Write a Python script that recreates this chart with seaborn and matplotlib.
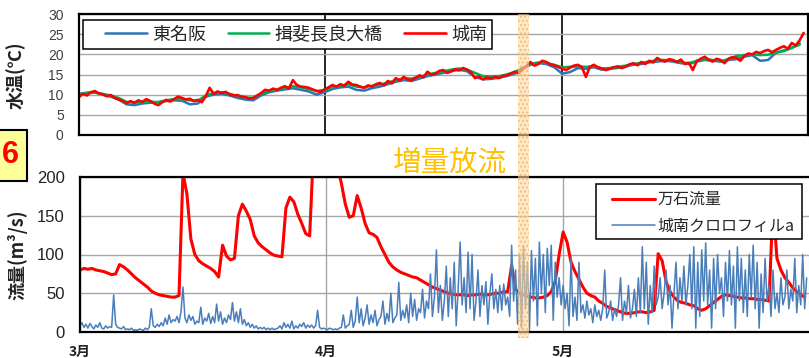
import numpy as np
import pandas as pd
import matplotlib
matplotlib.use("Agg")
import matplotlib.pyplot as plt
import seaborn as sns
from matplotlib.patches import Rectangle

sns.set_theme(style="white")
plt.rcParams["font.family"] = ["Liberation Sans", "Noto Sans CJK JP", "DejaVu Sans"]
JP = ["Noto Sans CJK JP", "DejaVu Sans"]

# ---- water temperature (°C) ----
# 城南: twice a day, from 1 March
temp_jonan = [
    9.4, 10.2, 9.8, 10.6, 10.9, 10.3, 10.1, 9.6, 9.9, 9.2,
    8.8, 8.5, 7.9, 8.4, 8.0, 8.6, 8.2, 8.9, 8.4, 7.8,
    7.4, 8.1, 8.7, 8.3, 8.9, 9.5, 9.2, 8.8, 9.0, 8.4,
    8.7, 8.1, 9.6, 11.7, 10.2, 10.8, 10.4, 10.7, 10.1, 9.8,
    9.9, 9.5, 9.4, 9.0, 9.2, 9.8, 10.4, 11.2, 11.0, 11.5,
    11.2, 11.7, 12.1, 11.5, 13.6, 12.4, 12.0, 11.9, 11.7, 11.3,
    10.9, 10.7, 11.3, 11.8, 12.4, 12.0, 12.6, 12.2, 13.2, 12.5,
    12.4, 12.0, 11.7, 12.3, 12.0, 12.6, 12.9, 12.3, 13.4, 12.8,
    14.1, 13.5, 14.4, 13.8, 13.6, 14.2, 14.8, 14.3, 15.7, 14.9,
    15.2, 15.9, 16.1, 15.4, 15.8, 16.3, 16.0, 16.6, 16.2, 15.5,
    14.1, 14.5, 13.8, 14.3, 14.0, 14.4, 14.1, 14.6, 14.8, 15.2,
    15.7, 15.3, 16.4, 17.0, 18.1, 17.2, 17.6, 18.4, 18.1, 17.5,
    17.3, 16.9, 16.4, 16.1, 16.7, 17.2, 17.4, 16.8, 14.4, 16.9,
    17.4, 16.8, 16.5, 16.1, 16.4, 16.8, 17.0, 16.6, 16.9, 17.5,
    17.8, 17.3, 18.1, 17.6, 18.4, 18.0, 19.1, 18.5, 18.2, 18.8,
    18.6, 18.1, 18.7, 17.6, 17.9, 16.1, 18.3, 18.9, 19.4, 18.7,
    18.2, 18.9, 18.6, 17.8, 18.9, 19.3, 19.1, 18.4, 19.6, 20.2,
    20.0, 20.6, 20.3, 20.8, 21.1, 20.5, 21.1, 21.6, 22.0, 21.4,
    22.8, 22.2, 23.5, 25.3,
]
# 東名阪: daily
temp_tomeihan = [
    10.2, 10.5, 10.6, 10.0, 9.5, 8.8, 7.6, 7.4, 7.8, 8.0,
    8.2, 8.4, 8.6, 8.5, 7.6, 7.8, 9.5, 10.0, 10.2, 9.8,
    9.2, 8.8, 8.6, 9.8, 10.6, 11.0, 11.3, 11.6, 11.2, 10.8,
    10.0, 10.6, 11.4, 11.8, 12.0, 11.2, 11.0, 11.6, 12.0, 12.6,
    13.2, 13.6, 13.4, 14.0, 14.6, 15.0, 15.4, 15.8, 16.2, 15.8,
    14.4, 13.8, 13.9, 14.2, 14.6, 15.2, 16.4, 17.4, 17.8, 17.6,
    16.8, 15.2, 15.6, 16.6, 16.4, 16.8, 16.2, 16.4, 16.6, 17.0,
    17.4, 17.6, 18.0, 18.2, 18.4, 18.2, 17.8, 17.6, 18.2, 18.6,
    18.4, 18.2, 18.6, 18.8, 19.4, 19.8, 18.4, 18.6, 20.4, 21.0,
    21.6, 22.8,
]
# 揖斐長良大橋: daily
temp_ibi = [
    10.0, 10.4, 10.5, 10.2, 9.8, 9.2, 8.2, 8.0, 8.2, 8.3,
    8.1, 8.6, 8.9, 8.9, 8.6, 8.5, 9.8, 10.4, 10.6, 10.2,
    9.7, 9.3, 9.2, 10.2, 10.9, 11.2, 11.6, 12.1, 11.8, 11.4,
    10.9, 11.2, 11.9, 12.2, 12.6, 12.0, 11.8, 12.2, 12.5, 13.0,
    13.6, 14.0, 14.0, 14.4, 15.0, 15.4, 15.8, 16.2, 16.5, 16.2,
    15.4, 14.6, 14.5, 14.6, 15.0, 15.6, 16.6, 17.6, 18.0, 17.9,
    17.4, 16.8, 16.9, 17.0, 16.9, 17.0, 16.5, 16.6, 16.9, 17.2,
    17.6, 17.9, 18.2, 18.6, 18.6, 18.4, 18.0, 17.8, 18.4, 18.8,
    18.6, 18.3, 18.8, 19.6, 19.8, 20.0, 19.8, 19.9, 20.4, 20.8,
    21.6, 22.4,
]

# ---- 万石流量 (m3/s), twice a day ----
flow_mangoku = [
    80, 82, 81, 82, 80, 79, 78, 76, 74, 75,
    87, 84, 80, 75, 70, 66, 62, 58, 53, 50,
    48, 47, 46, 45, 45, 47, 205, 178, 120, 100,
    92, 88, 85, 82, 78, 71, 112, 98, 93, 95,
    150, 165, 156, 145, 124, 115, 110, 106, 102, 99,
    98, 97, 160, 174, 168, 152, 140, 127, 124, 240,
    280, 290, 270, 250, 230, 212, 192, 165, 148, 150,
    176, 160, 140, 128, 126, 122, 110, 100, 90, 84,
    80, 77, 75, 73, 71, 70, 67, 64, 61, 58,
    56, 54, 52, 50, 49, 48, 48, 48, 47, 48,
    48, 49, 48, 48, 49, 50, 50, 52, 52, 86,
    55, 50, 48, 46, 45, 44, 44, 45, 47, 52,
    65, 100, 129, 116, 90, 78, 68, 58, 50, 47,
    45, 40, 37, 33, 31, 29, 27, 25, 24, 24,
    25, 26, 26, 25, 26, 28, 101, 92, 65, 52,
    45, 40, 38, 37, 35, 34, 30, 28, 30, 34,
    38, 42, 46, 48, 47, 46, 45, 44, 44, 43,
    43, 42, 42, 41, 40, 165, 95, 80, 70, 64,
    57, 52, 48, 45,
]

# ---- 城南クロロフィルa, four readings a day ----
chl_jonan = [
    8, 12, 6, 10, 5, 11, 7, 4, 9, 6, 12, 5,
    4, 8, 5, 7, 6, 48, 10, 6, 5, 4, 7, 3,
    4, 3, 5, 2, 3, 2, 4, 3, 2, 5, 3, 6,
    30, 8, 6, 10, 7, 12, 8, 18, 10, 22, 12, 16,
    14, 20, 12, 26, 58, 18, 12, 22, 15, 20, 10, 14,
    12, 32, 10, 18, 14, 24, 11, 20, 12, 36, 14, 26,
    10, 18, 12, 22, 16, 38, 14, 26, 12, 30, 10, 16,
    8, 12, 6, 10, 5, 8, 4, 6, 4, 6, 3, 5,
    3, 5, 3, 4, 5, 8, 4, 12, 6, 10, 5, 14,
    4, 8, 5, 10, 7, 12, 5, 9, 6, 9, 5, 8,
    28, 6, 4, 5, 4, 3, 5, 4, 3, 4, 3, 5,
    6, 22, 5, 8, 10, 28, 6, 14, 45, 12, 30, 8,
    18, 35, 10, 22, 12, 28, 8, 16, 20, 40, 10, 24,
    14, 50, 12, 18, 22, 64, 15, 28, 18, 35, 12, 50,
    20, 42, 15, 30, 25, 55, 18, 40, 30, 75, 20, 45,
    106, 25, 60, 15, 40, 85, 20, 70, 30, 90, 8, 55,
    116, 35, 70, 25, 103, 30, 100, 15, 40, 80, 20, 60,
    35, 65, 10, 50, 75, 30, 55, 25, 60, 28, 62, 35,
    45, 20, 112, 40, 80, 10, 100, 5, 110, 30, 90, 2,
    105, 40, 95, 8, 116, 50, 100, 25, 108, 60, 112, 15,
    90, 45, 70, 35, 60, 30, 50, 8, 96, 20, 45, 15,
    90, 25, 35, 18, 40, 22, 30, 12, 35, 20, 28, 15,
    30, 80, 18, 25, 40, 15, 30, 20, 35, 70, 15, 40,
    25, 60, 18, 30, 55, 20, 70, 25, 110, 30, 90, 10,
    60, 25, 85, 35, 45, 70, 30, 50, 80, 35, 60, 5,
    50, 90, 30, 70, 40, 85, 35, 60, 100, 30, 110, 5,
    90, 20, 106, 40, 115, 35, 80, 5, 95, 30, 100, 50,
    70, 20, 90, 40, 105, 35, 85, 5, 110, 40, 95, 25,
    80, 20, 100, 45, 112, 30, 90, 5, 75, 25, 95, 40,
    60, 20, 80, 30, 50, 25, 70, 35, 45, 80, 30, 55,
    40, 95, 25, 60, 35, 100, 30, 70,
]

month_ticks = [0, 31, 61]
month_labels = ["3月", "4月", "5月"]

t_jonan = np.arange(len(temp_jonan)) / 2
t_daily = np.arange(len(temp_tomeihan))
t_flow = np.arange(len(flow_mangoku)) / 2
t_chl = np.arange(len(chl_jonan)) / 4

W, H = 809, 358
PX_PER_DAY = 7.92
fig = plt.figure(figsize=(W / 100, H / 100), dpi=100)
fig.patch.set_facecolor("white")


def px_axes(x0, y0, x1, y1):
    return fig.add_axes([x0 / W, 1 - y1 / H, (x1 - x0) / W, (y1 - y0) / H])


def legend_frame(ax, x0, y0, x1, y1):
    """White box with black border behind a frameless legend (pixel coords)."""
    ax.add_patch(Rectangle((x0 / W, 1 - y1 / H), (x1 - x0) / W, (y1 - y0) / H,
                           transform=fig.transFigure, facecolor="white",
                           edgecolor="black", lw=1.1, zorder=4, clip_on=False))


ax1 = px_axes(79, 14, 808, 135)
ax2 = px_axes(80, 177, 811, 332)

# ---------- upper panel: water temperature ----------
sns.lineplot(x=t_daily, y=temp_tomeihan, ax=ax1, color="#2E75B6", lw=1.8, label="東名阪")
sns.lineplot(x=t_daily, y=temp_ibi, ax=ax1, color="#00B050", lw=1.8, label="揖斐長良大橋")
sns.lineplot(x=t_jonan, y=temp_jonan, ax=ax1, color="#FF0000", lw=1.9, label="城南")

ax1.set_xlim(0, (808 - 79) / PX_PER_DAY)
ax1.set_ylim(0, 30)
ax1.set_yticks(range(0, 31, 5))
ax1.set_xticks(month_ticks)
ax1.set_xticklabels([])
ax1.grid(axis="y", color="#A6A6A6", lw=1.0)
ax1.grid(axis="x", color="black", lw=1.2)
ax1.set_axisbelow(True)
ax1.tick_params(axis="both", length=0, pad=11, labelsize=10, colors="#404040")
for s in ax1.spines.values():
    s.set_color("black")
    s.set_linewidth(1.6)

legend_frame(ax1, 83, 20, 492, 49)
leg1 = ax1.legend(loc="center left", bbox_to_anchor=(105 / W, 1 - 34.5 / H),
                  bbox_transform=fig.transFigure, ncol=3, frameon=False,
                  prop={"family": JP, "size": 13}, handlelength=2.3,
                  handletextpad=0.3, columnspacing=1.2, borderaxespad=0,
                  borderpad=0)
leg1.set_zorder(5)

# ---------- lower panel: discharge and chlorophyll ----------
sns.lineplot(x=t_flow, y=flow_mangoku, ax=ax2, color="#FF0000", lw=2.2, label="万石流量")
sns.lineplot(x=t_chl, y=chl_jonan, ax=ax2, color="#4A7EBB", lw=1.1, label="城南クロロフィルa")

ax2.set_xlim(0, (811 - 80) / PX_PER_DAY)
ax2.set_ylim(0, 200)
ax2.set_yticks(range(0, 201, 50))
ax2.set_xticks(month_ticks)
ax2.set_xticklabels(month_labels, fontweight="bold", family=JP)
ax2.grid(True, color="#A6A6A6", lw=1.0)
ax2.set_axisbelow(True)
ax2.tick_params(axis="y", length=0, pad=11, labelsize=12, colors="#222222")
ax2.tick_params(axis="x", length=0, pad=9, labelsize=10, colors="#222222")
for s in ax2.spines.values():
    s.set_color("black")
    s.set_linewidth(1.6)

legend_frame(ax2, 596, 184, 802, 239)
leg2 = ax2.legend(loc="center left", bbox_to_anchor=(612 / W, 1 - 213 / H),
                  bbox_transform=fig.transFigure, ncol=1, frameon=False,
                  prop={"family": JP, "size": 11.5}, handlelength=2.7,
                  handletextpad=0.15, labelspacing=0.6, borderaxespad=0,
                  borderpad=0)
leg2.set_zorder(5)

# axis titles
fig.text(16 / W, 1 - 75 / H, "水温(℃)", rotation=90, ha="center", va="center",
         family=JP, fontweight="bold", fontsize=13, color="#222222")
fig.text(17 / W, 1 - 255 / H, "流量(m³/s)", rotation=90, ha="center", va="center",
         family=JP, fontweight="bold", fontsize=13, color="#222222")

# increased-release period band
band = Rectangle((518 / W, 1 - 338 / H), 11 / W, (338 - 14) / H,
                 transform=fig.transFigure, facecolor="#FCD9A6",
                 edgecolor="#F7A440", hatch="....", lw=0, alpha=0.6, zorder=10)
fig.patches.append(band)
fig.text(449 / W, 1 - 163 / H, "増量放流", ha="center", va="center",
         family=JP, fontsize=20.5, color="#FFC000")

# panel number tag
fig.patches.append(Rectangle((-2 / W, 1 - 181 / H), 29 / W, 51 / H,
                             transform=fig.transFigure, facecolor="#FFFF99",
                             edgecolor="black", lw=1.5, zorder=5))
fig.text(2 / W, 1 - 155 / H, "6", ha="left", va="center", fontsize=22,
         fontweight="bold", color="#FF0000", zorder=6)

fig.savefig("out.png", dpi=100)
